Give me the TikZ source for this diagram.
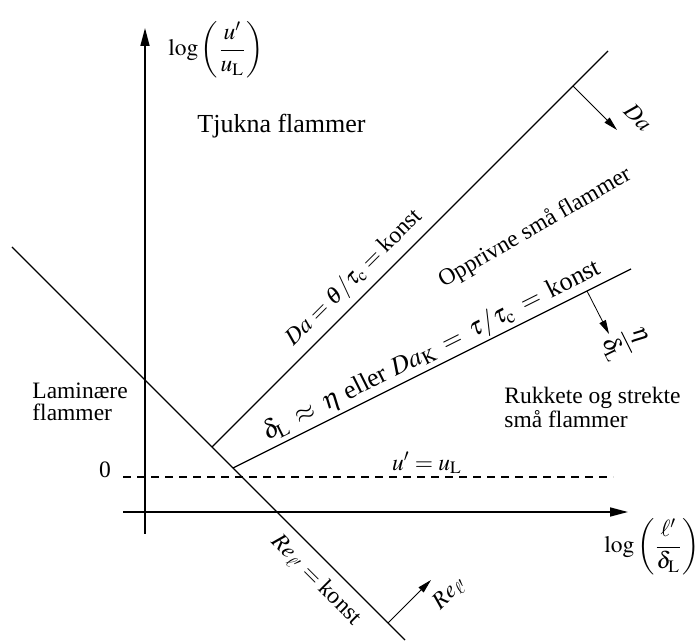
\documentclass[tikz,border=0pt]{standalone}
\usepackage{amsmath}
\usepackage{mathptmx}
\usepackage{fontspec}
\setmainfont{Liberation Serif}
\usetikzlibrary{arrows.meta}

\begin{document}
\begin{tikzpicture}[x=0.5pt,y=0.5pt,font=\fontsize{11.75}{11}\selectfont]
\tikzstyle{every node}=[inner sep=1pt]
\tikzstyle{axis}=[line width=0.8pt,-{Triangle[length=9pt,width=4.5pt]}]
\tikzstyle{regime}=[line width=0.6pt]
\tikzstyle{trend}=[line width=0.4pt,-{Triangle[length=7pt,width=3.5pt]}]
\useasboundingbox (0,0) rectangle (699,641);
    % axes
    \coordinate(y0) at (145,107);
    \coordinate(y1) at (145,613);
    \coordinate(x0) at (123,129);
    \coordinate(x1) at (628,129);
    \draw[axis](y0)--(y1);
    \draw[axis](x0)--(x1);
    \node(ylab) at (216,591){$\log\left(\dfrac{u'}{u_{\mathrm{L}}}\right)$};
    \node(xlab) at (652,94){$\log\left(\dfrac{\ell'}{\delta_{\mathrm{L}}}\right)$};
    % u' = u_L
    \coordinate(z0) at (123,164);
    \coordinate(z1) at (613,164);
    \draw[regime,dash pattern=on 4pt off 3pt](z0)--(z1);
    \node(zero) at (105,171){0};
    \node(ul) at (427,178){$u'=u_{\mathrm{L}}$};
    % regime borders
    \coordinate(r0) at (12,394);
    \coordinate(r1) at (405,1);
    \coordinate(d0) at (212,194);
    \coordinate(d1) at (608,590);
    \coordinate(k0) at (233,173);
    \coordinate(k1) at (631,372);
    \draw[regime](r0)--(r1);
    \draw[regime](d0)--(d1);
    \draw[regime](k0)--(k1);
    \node[rotate=-45](rl) at (316,61){$Re_{\ell'}=\text{konst}$};
    \node[rotate=45](dl) at (354,363){$Da=\theta/\tau_{\mathrm{c}}=\text{konst}$};
    \node[rotate=26.57,font=\fontsize{13}{13}\selectfont](kl) at (432,290)
        {\thickmuskip=7mu $\delta_{\mathrm{L}}\approx\eta$ eller $Da_{\mathrm{K}}=\tau/\tau_{\mathrm{c}}=\text{konst}$};
    % directions
    \coordinate(a0) at (573,555);
    \coordinate(a1) at (617,511);
    \coordinate(b0) at (587,350);
    \coordinate(b1) at (609,307);
    \coordinate(c0) at (388,18);
    \coordinate(c1) at (431,61);
    \draw[trend](a0)--(a1);
    \draw[trend](b0)--(b1);
    \draw[trend](c0)--(c1);
    \node[rotate=-45](al) at (638,524){$Da$};
    \node[rotate=-63.43](bl) at (625,298){$\dfrac{\eta}{\delta_{\mathrm{L}}}$};
    \node[rotate=45](cl) at (450,48){$Re_{\ell'}$};
    % regimes
    \node[anchor=base west,font=\fontsize{13}{13}\selectfont](tf) at (195,508){Tjukna flammer};
    \node[rotate=30](of) at (535,413){Opprivne små flammer};
    \node[anchor=north west,align=left,inner sep=0pt](lf) at (32,258){Laminære\\flammer};
    \node[anchor=north west,align=left,inner sep=0pt](rf) at (504,254){Rukkete og strekte\\små flammer};
\end{tikzpicture}
\end{document}
